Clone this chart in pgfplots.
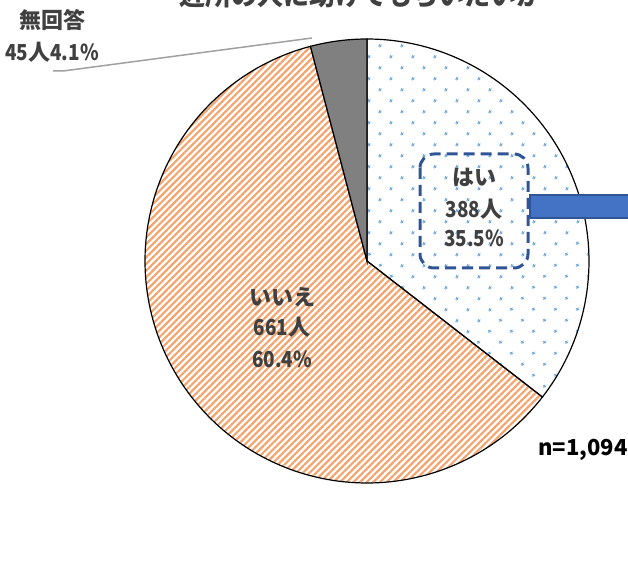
\documentclass[border=0pt]{standalone}
\usepackage{fontspec}
\setmainfont{Noto Sans CJK JP}
\usepackage{graphicx}
\usepackage{pgfplots}
\pgfplotsset{compat=1.18}
\usepackage{pgfplotstable}
\usetikzlibrary{patterns.meta}

\definecolor{lbl}{HTML}{404040}
\definecolor{dotblue}{HTML}{6FA8DC}
\definecolor{stripe}{HTML}{F4A46E}
\definecolor{gslice}{HTML}{808080}
\definecolor{navy}{HTML}{2F5597}
\definecolor{barblue}{HTML}{4472C4}
\definecolor{leader}{HTML}{A0A0A0}

\newcommand{\nd}[1]{\scalebox{0.86}[1]{#1}}

\pgfplotstableread{
label count pct
hai 388 35.5
iie 661 60.4
mukaito 45 4.1
}\piedata

\begin{document}
\begin{tikzpicture}
\useasboundingbox (0,0) rectangle (628bp,583bp);
\clip (0,0) rectangle (628bp,583bp);
\pgfplotstablegetelem{0}{pct}\of\piedata \let\pA\pgfplotsretval
\pgfplotstablegetelem{1}{pct}\of\piedata \let\pB\pgfplotsretval
\pgfplotstablegetelem{2}{pct}\of\piedata \let\pC\pgfplotsretval
\pgfmathsetmacro{\aA}{90-3.6*\pA}
\pgfmathsetmacro{\aB}{\aA-3.6*\pB}
\pgfmathsetmacro{\aC}{\aB-3.6*\pC}
\begin{axis}[
  hide axis, x=1bp, y=1bp,
  xmin=0, xmax=628, ymin=0, ymax=583,
  at={(0,0)}, anchor=south west, clip=true,
]
% はい
\addplot[draw=black, line width=1.2bp,
  pattern={Dots[angle=45,distance=15.4bp,radius=1.5bp]}, pattern color=dotblue,
  domain=\aA:90, samples=120, variable=\t]
  ({367+222*cos(\t)},{322+222*sin(\t)}) -- (axis cs:367,322) -- cycle;
% いいえ
\addplot[draw=black, line width=1.2bp,
  pattern={Lines[angle=45,distance=4.7bp,line width=2.2bp]}, pattern color=stripe,
  domain=\aB:\aA, samples=200, variable=\t]
  ({367+222*cos(\t)},{322+222*sin(\t)}) -- (axis cs:367,322) -- cycle;
% 無回答
\addplot[draw=black, line width=1.2bp, fill=gslice,
  domain=\aC:\aB, samples=30, variable=\t]
  ({367+222*cos(\t)},{322+222*sin(\t)}) -- (axis cs:367,322) -- cycle;

% leader line
\draw[leader, line width=1.5bp] (axis cs:53,512) -- (axis cs:63,512) -- (axis cs:312,545);

% blue bar and dashed box
\draw[fill=barblue, draw=navy, line width=1.2bp] (axis cs:530,388) rectangle (axis cs:640,365);
\draw[navy, line width=3bp, dash pattern=on 11bp off 6bp, rounded corners=14bp]
  (axis cs:420,429) rectangle (axis cs:528,315);

% title (cut off at the top edge, as in the reference)
\node[anchor=base, text=lbl, font=\fontsize{26bp}{30bp}\selectfont\bfseries]
  at (axis cs:361,577) {近所の人に助けてもらいたいか};

% labels
\tikzset{lb/.style={text=lbl, font=\fontsize{22bp}{26bp}\selectfont\bfseries, inner sep=0pt}}
\node[lb] at (axis cs:474,406) {はい};
\node[lb] at (axis cs:474,374) {\nd{388}人};
\node[lb] at (axis cs:474,345) {\nd{35.5\%}};
\node[lb] at (axis cs:282,286) {いいえ};
\node[lb] at (axis cs:282,256) {\nd{661}人};
\node[lb] at (axis cs:282,224) {\nd{60.4\%}};
\node[lb] at (axis cs:52,563) {無回答};
\node[lb] at (axis cs:52,531) {\nd{45}人\nd{4.1\%}};
\node[text=black, font=\fontsize{22bp}{26bp}\selectfont\bfseries, inner sep=0pt]
  at (axis cs:583,133) {n=1,094};
\end{axis}
\end{tikzpicture}
\end{document}
